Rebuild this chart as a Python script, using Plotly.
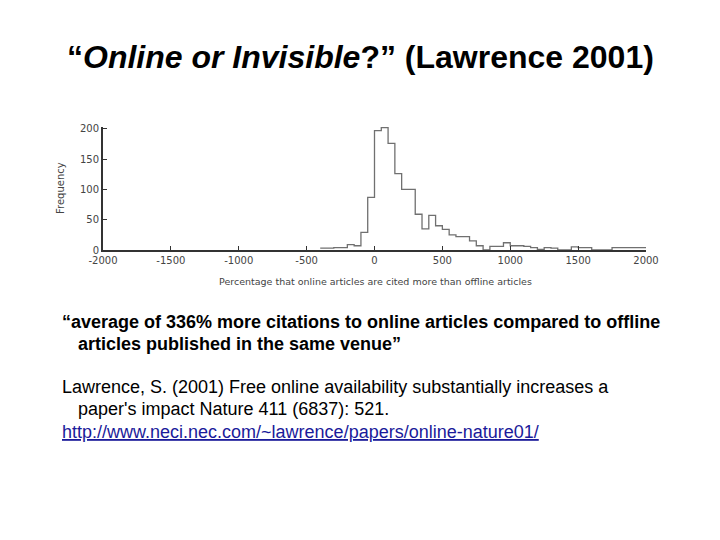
import plotly.graph_objects as go

# ---- data ----
bin_edges = [-400, -350, -300, -250, -200, -150, -100, -50, 0, 50, 100, 150, 200, 250,
             300, 350, 400, 450, 500, 550, 600, 650, 700, 750, 800, 850, 900, 950,
             1000, 1050, 1100, 1150, 1200, 1250, 1300, 1350, 1400, 1450, 1500, 1550,
             1600, 1650, 1700, 1750, 1800, 1850, 1900, 1950, 2000]
frequency = [3, 3, 4, 4, 9, 7, 29, 87, 197, 202, 176, 126, 100, 100,
             59, 35, 57, 40, 34, 25, 22, 22, 15, 7, 0, 6, 6, 12,
             7, 7, 6, 4, 1, 4, 3, 0, 0, 5, 4, 4,
             0, 0, 0, 4, 4, 4, 4, 4]
x_ticks = [-2000, -1500, -1000, -500, 0, 500, 1000, 1500, 2000]
x_tick_labels = ["-2000", "-1500", "-1000", "-500", "0", "500", "1000", "1500", "2000"]
y_ticks = [0, 50, 100, 150, 200]

W, H = 720, 540
L, R, T, B = 103, 646, 127, 250  # plot area in pixels


def px(x):
    return (x - L) / (R - L)


def py(y):
    return (B - y) / (B - T)


step_x = bin_edges
step_y = frequency + [frequency[-1]]

fig = go.Figure()
fig.add_trace(go.Scatter(
    x=step_x, y=step_y, mode="lines", line_shape="hv",
    line=dict(color="#707070", width=1.3), showlegend=False, hoverinfo="skip"))

axis_font = dict(family="DejaVu Sans, Liberation Sans", size=10, color="#444444")
fig.update_xaxes(range=[-2000, 2000], tickvals=x_ticks, ticktext=x_tick_labels,
                 ticks="inside", ticklen=4,
                 tickcolor="#333333", showline=True, linecolor="#333333", linewidth=2,
                 showgrid=False, zeroline=False, tickfont=axis_font, automargin=False)
fig.update_yaxes(range=[0, 203], tickvals=y_ticks, ticks="inside", ticklen=4,
                 tickcolor="#333333", showline=True, linecolor="#333333", linewidth=2,
                 showgrid=False, zeroline=False, tickfont=axis_font, automargin=False)

ann = []
ann.append(dict(text="<b>“<i>Online or Invisible</i>?” (Lawrence 2001)</b>",
                x=px(360), y=py(57), xanchor="center", yanchor="middle",
                font=dict(family="Liberation Sans, Arial", size=32, color="black")))
ann.append(dict(text="Percentage that online articles are cited more than offline articles",
                x=px(375), y=py(281), xanchor="center", yanchor="middle",
                font=dict(family="DejaVu Sans, Liberation Sans", size=9.5, color="#444444")))
ann.append(dict(text="Frequency", textangle=-90,
                x=px(60), y=py(188), xanchor="center", yanchor="middle",
                font=dict(family="DejaVu Sans, Liberation Sans", size=10, color="#444444")))

body = dict(family="Liberation Sans, Arial", size=18, color="black")
lines = [
    ("<b>“average of 336% more citations to online articles compared to offline</b>", 60, 322),
    ("<b>articles published in the same venue”</b>", 76, 344),
    ("Lawrence, S. (2001) Free online availability substantially increases a", 60, 387),
    ("paper's impact Nature 411 (6837): 521.", 76, 409),
]
for t, x0, y0 in lines:
    ann.append(dict(text=t, x=px(x0), y=py(y0), xanchor="left", yanchor="middle", font=body))
ann.append(dict(text="<u>http://www.neci.nec.com/~lawrence/papers/online-nature01/</u>",
                x=px(60), y=py(432), xanchor="left", yanchor="middle",
                font=dict(family="Liberation Sans, Arial", size=18, color="#1a1a9a")))

for a in ann:
    a.update(xref="paper", yref="paper", showarrow=False)

fig.update_layout(width=W, height=H, autosize=False,
                  margin=dict(l=L, r=W - R, t=T, b=H - B),
                  paper_bgcolor="white", plot_bgcolor="white",
                  annotations=ann)

fig.write_html("out.html", config={"displayModeBar": False},
               post_script="document.body.style.margin='0px';")
